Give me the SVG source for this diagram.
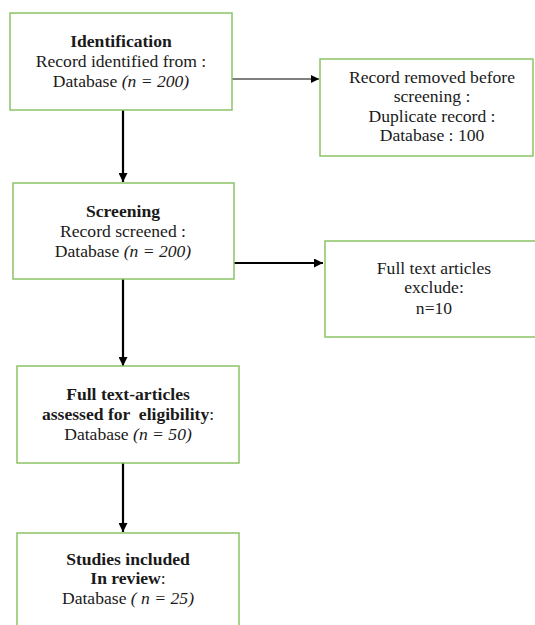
<svg xmlns="http://www.w3.org/2000/svg" width="535" height="625" viewBox="0 0 535 625">
<defs>
<marker id="ah" viewBox="0 0 10 10" refX="10" refY="5" markerWidth="8" markerHeight="8" markerUnits="userSpaceOnUse" orient="auto">
<path d="M0,0 L10,5 L0,10 Z" fill="#000"/>
</marker>
<marker id="ah2" viewBox="0 0 10 10" refX="10" refY="5" markerWidth="9" markerHeight="9" markerUnits="userSpaceOnUse" orient="auto">
<path d="M0,0 L10,5 L0,10 Z" fill="#000"/>
</marker>
</defs>
<style>
.box{fill:#fff;stroke:#8CC466;stroke-width:1.5}
text{font-family:"Liberation Serif","Times New Roman",serif;font-size:17.6px;fill:#1a1a1a;text-anchor:middle;white-space:pre}
.b{font-weight:bold}
.i{font-style:italic}
.thin{stroke:#000;stroke-width:1.2;fill:none}
.thick{stroke:#000;stroke-width:2.2;fill:none}
</style>
<rect width="535" height="625" fill="#fff"/>
<g id="connectors">
<line class="thin" x1="232" y1="79" x2="319" y2="79" marker-end="url(#ah)"/>
<line class="thick" x1="123" y1="110" x2="123" y2="182" marker-end="url(#ah2)"/>
<line class="thick" x1="234" y1="263" x2="323" y2="263" marker-end="url(#ah2)"/>
<line class="thick" x1="123" y1="279" x2="123" y2="366" marker-end="url(#ah2)"/>
<line class="thick" x1="123" y1="463" x2="123" y2="532" marker-end="url(#ah2)"/>
</g>
<g id="identification">
<rect class="box" x="10" y="13" width="222" height="97"/>
<text x="121" y="47" class="b">Identification</text>
<text x="121" y="67">Record identified from :</text>
<text x="121" y="87">Database <tspan class="i">(n = 200)</tspan></text>
</g>
<g id="removed">
<rect class="box" x="320" y="59" width="213" height="97"/>
<text x="432" y="83">Record removed before</text>
<text x="432" y="102">screening :</text>
<text x="432" y="122">Duplicate record :</text>
<text x="432" y="141">Database : 100</text>
</g>
<g id="screening">
<rect class="box" x="13" y="183" width="221" height="96"/>
<text x="123" y="217" class="b">Screening</text>
<text x="123" y="237">Record screened :</text>
<text x="123" y="257">Database <tspan class="i">(n = 200)</tspan></text>
</g>
<g id="excluded">
<rect class="box" x="325" y="241" width="215" height="96"/>
<text x="434" y="274">Full text articles</text>
<text x="434" y="293">exclude:</text>
<text x="434" y="314">n=10</text>
</g>
<g id="eligibility">
<rect class="box" x="17" y="366" width="222" height="97"/>
<text x="128" y="400" class="b">Full text-articles</text>
<text x="128" y="420"><tspan class="b">assessed for  eligibility</tspan>:</text>
<text x="128" y="440">Database <tspan class="i">(n = 50)</tspan></text>
</g>
<g id="included">
<rect class="box" x="17" y="533" width="222" height="100"/>
<text x="128" y="565" class="b">Studies included</text>
<text x="128" y="584"><tspan class="b">In review</tspan>:</text>
<text x="128" y="604">Database <tspan class="i">( n = 25)</tspan></text>
</g>
</svg>
